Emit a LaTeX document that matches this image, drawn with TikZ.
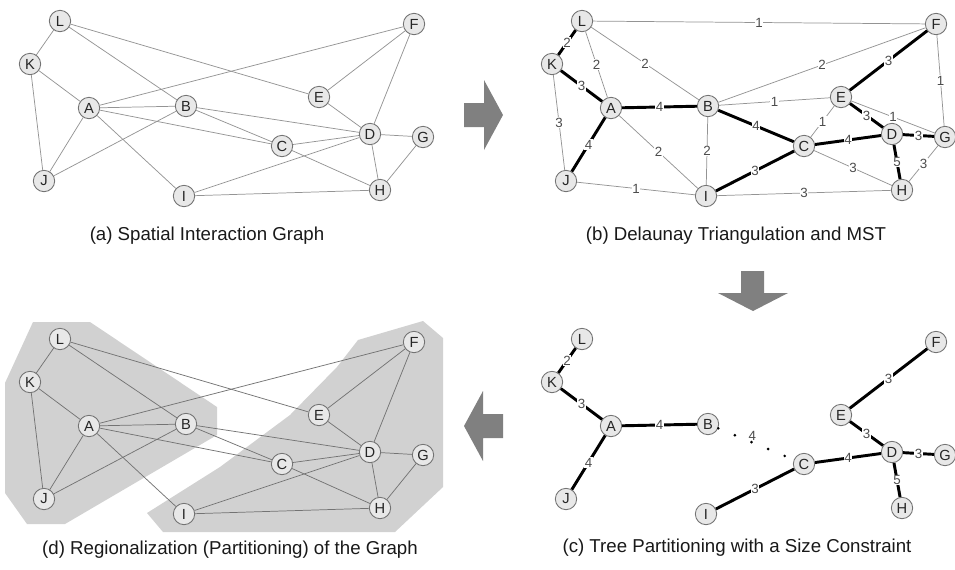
\documentclass[tikz,border=0pt]{standalone}
\usepackage{fontspec}
\setmainfont{Liberation Sans}
\begin{document}
\begin{tikzpicture}[x=0.75pt,y=-0.75pt]
\tikzset{
 vtx/.style={circle,draw=black!55,fill=black!9,line width=0.65pt,minimum size=16pt,inner sep=0pt,font=\fontsize{11}{11}\selectfont,text=black!85},
 ge/.style={draw=black!42,line width=0.55pt},
 de/.style={draw=black!55,line width=0.55pt},
 mst/.style={draw=black,line width=2.2pt},
 lbl/.style={fill=white,inner sep=0.4pt,font=\fontsize{10}{10}\selectfont,text=black!70},
 captext/.style={font=\fontsize{14}{16}\selectfont,text=black!90},
 garrow/.style={fill=black!50,draw=none},
 region/.style={fill=black!18,draw=none},
 dotline/.style={draw=black,line width=2.2pt,line cap=round,dash pattern=on 0pt off 13.5pt},
}
\newcommand\putnodes[1]{%
 \node[vtx] (#1L) at (60,21) {L};
 \node[vtx] (#1K) at (30,64) {K};
 \node[vtx] (#1A) at (89,108) {A};
 \node[vtx] (#1B) at (186,106) {B};
 \node[vtx] (#1E) at (319,97) {E};
 \node[vtx] (#1F) at (414,24) {F};
 \node[vtx] (#1D) at (370,134) {D};
 \node[vtx] (#1G) at (423,137) {G};
 \node[vtx] (#1C) at (282,146) {C};
 \node[vtx] (#1J) at (44,181) {J};
 \node[vtx] (#1I) at (184,196) {I};
 \node[vtx] (#1H) at (380,190) {H};
}
\newcommand\fulledges[2]{%
 \foreach \u/\v in {L/K,L/B,L/E,K/A,K/J,A/F,A/B,A/C,A/J,A/I,B/J,B/D,B/C,E/F,E/D,F/D,D/G,D/C,D/I,D/H,C/H,G/H,I/H}
   \draw[#2] (#1\u) -- (#1\v);
}
\newcommand\mstedges[1]{%
 \foreach \u/\v/\w in {L/K/2,K/A/3,A/B/4,A/J/4,C/I/3,C/D/4,E/F/3,E/D/3,D/G/3,D/H/5}
   \draw[mst] (#1\u) -- node[lbl]{\w} (#1\v);
}
\useasboundingbox (0,0) rectangle (955,569);
\fill[white] (0,0) rectangle (955,569);

% (a)
\putnodes{a}
\fulledges{a}{ge}
\node[captext] (capa) at (207,236) {(a) Spatial Interaction Graph};

% (b)
\begin{scope}[shift={(522,0)}]
\putnodes{b}
\end{scope}
\foreach \u/\v/\w in {L/F/1,L/A/2,L/B/2,K/J/3,A/I/2,B/I/2,B/E/1,B/F/2,J/I/1,I/H/3,C/E/1,C/H/3,E/G/1,F/G/1,G/H/3}
  \draw[ge] (b\u) -- node[lbl]{\w} (b\v);
\foreach \u/\v/\w in {B/C/4}
  \draw[mst] (b\u) -- node[lbl]{\w} (b\v);
\mstedges{b}
\node[captext] (capb) at (736,236) {(b) Delaunay Triangulation and MST};

% (c)
\begin{scope}[shift={(522,318)}]
\putnodes{c}
\end{scope}
\mstedges{c}
\draw[dotline] (cB) -- node[lbl,fill=none,pos=0.45,yshift=5pt]{4} (cC);
\node[captext] (capc) at (737,548) {(c) Tree Partitioning with a Size Constraint};

% (d)
\fill[region] (33,322) -- (90,322) -- (217,407) -- (217,435) -- (65,524) -- (27,524) -- (5,493) -- (5,383) -- cycle;
\fill[region] (147,513) -- (220,467) -- (290,415) -- (337,367) -- (358,340) -- (423,321) -- (443,338) -- (443,487) -- (395,532) -- (163,532) -- cycle;
\begin{scope}[shift={(0,318)}]
\putnodes{d}
\end{scope}
\fulledges{d}{de}
\node[captext] (capd) at (230,550) {(d) Regionalization (Partitioning) of the Graph};

% arrows
\fill[garrow] (464,103) -- (484,103) -- (484,80) -- (503,115) -- (484,150) -- (484,127) -- (464,127) -- cycle;
\fill[garrow] (741,271) -- (764,271) -- (764,293) -- (788,293) -- (753,311) -- (718,293) -- (741,293) -- cycle;
\fill[garrow] (503,414) -- (483,414) -- (483,391) -- (464,426) -- (483,461) -- (483,438) -- (503,438) -- cycle;
\end{tikzpicture}
\end{document}
